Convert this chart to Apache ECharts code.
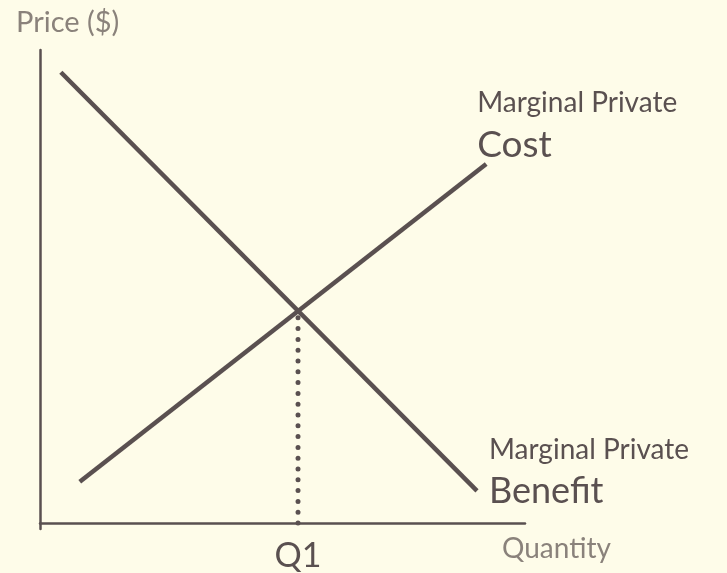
<!DOCTYPE html>
<html>
<head>
    <meta charset="UTF-8">
    <title>Marginal private cost and benefit</title>
    <script src="https://cdn.jsdelivr.net/npm/echarts@6/dist/echarts.min.js"></script>
    <style>
        html, body { margin: 0; padding: 0; background: #fefce9; }
        #main { width: 727px; height: 573px; }
    </style>
</head>
<body>
<div id="main"></div>
<script>
    // 数据：两条边际曲线 + Q1 均衡点
    var mpbPoints = [[4.3, 95.3], [90.1, 6.8]];   // Marginal Private Benefit
    var mpcPoints = [[8.2, 8.7], [92.0, 75.9]];   // Marginal Private Cost
    var q1Value = 53.2;
    var q1Price = 44.8;

    var ink = '#5a5050';
    var soft = '#8a827b';
    var font = 'Lato';

    var myChart = echarts.init(document.getElementById('main'));

    var option = {
        backgroundColor: '#fefce9',
        animation: false,
        textStyle: { fontFamily: font },
        title: {
            text: 'Price ($)',
            left: 11, top: 3,
            textStyle: { fontSize: 29, fontWeight: 'normal', color: soft, fontFamily: font }
        },
        grid: { left: 40, top: 50, right: 202, bottom: 44 },
        xAxis: {
            type: 'value',
            min: 0, max: 100,
            name: 'Quantity',
            nameLocation: 'end',
            nameGap: -23,
            nameTextStyle: { fontSize: 28, color: soft, verticalAlign: 'top', padding: [12, 0, 0, 0] },
            axisLine: { show: true, onZero: true, lineStyle: { color: ink, width: 2.5 } },
            axisTick: { show: false },
            axisLabel: { show: false },
            splitLine: { show: false }
        },
        yAxis: {
            type: 'value',
            min: -1.27, max: 100,
            axisLine: { show: true, lineStyle: { color: ink, width: 2.5 } },
            axisTick: { show: false },
            axisLabel: { show: false },
            splitLine: { show: false }
        },
        series: [
            {
                // 边际私人收益（需求）
                type: 'line',
                data: [
                    mpbPoints[0],
                    {
                        value: mpbPoints[1],
                        label: {
                            show: true,
                            position: 'inside',
                            align: 'left',
                            verticalAlign: 'bottom',
                            offset: [12, 24],
                            formatter: '{a|Marginal Private}\n{b|Benefit}',
                            rich: {
                                a: { fontSize: 28, color: ink, lineHeight: 38, fontFamily: font },
                                b: { fontSize: 36, color: ink, lineHeight: 46, fontFamily: font }
                            }
                        }
                    }
                ],
                symbolSize: 0,
                lineStyle: { color: ink, width: 4.5 },
                z: 3
            },
            {
                // 边际私人成本（供给）
                type: 'line',
                data: [
                    mpcPoints[0],
                    {
                        value: mpcPoints[1],
                        label: {
                            show: true,
                            position: 'inside',
                            align: 'left',
                            verticalAlign: 'bottom',
                            offset: [-9, 4],
                            formatter: '{a|Marginal Private}\n{b|Cost}',
                            rich: {
                                a: { fontSize: 28, color: ink, lineHeight: 38, fontFamily: font },
                                b: { fontSize: 37, color: ink, lineHeight: 46, fontFamily: font }
                            }
                        }
                    }
                ],
                symbolSize: 0,
                lineStyle: { color: ink, width: 4.5 },
                z: 3
            },
            {
                // Q1 虚线
                type: 'line',
                data: [
                    {
                        value: [q1Value, 0],
                        label: {
                            show: true,
                            position: 'inside',
                            verticalAlign: 'middle',
                            offset: [0, 33],
                            formatter: 'Q1',
                            fontSize: 34,
                            color: ink,
                            fontFamily: font
                        }
                    },
                    [q1Value, q1Price]
                ],
                symbolSize: 0,
                lineStyle: { color: ink, width: 5, type: [0, 10.8], cap: 'round' },
                z: 2
            }
        ]
    };
    myChart.setOption(option);
</script>
</body>
</html>
